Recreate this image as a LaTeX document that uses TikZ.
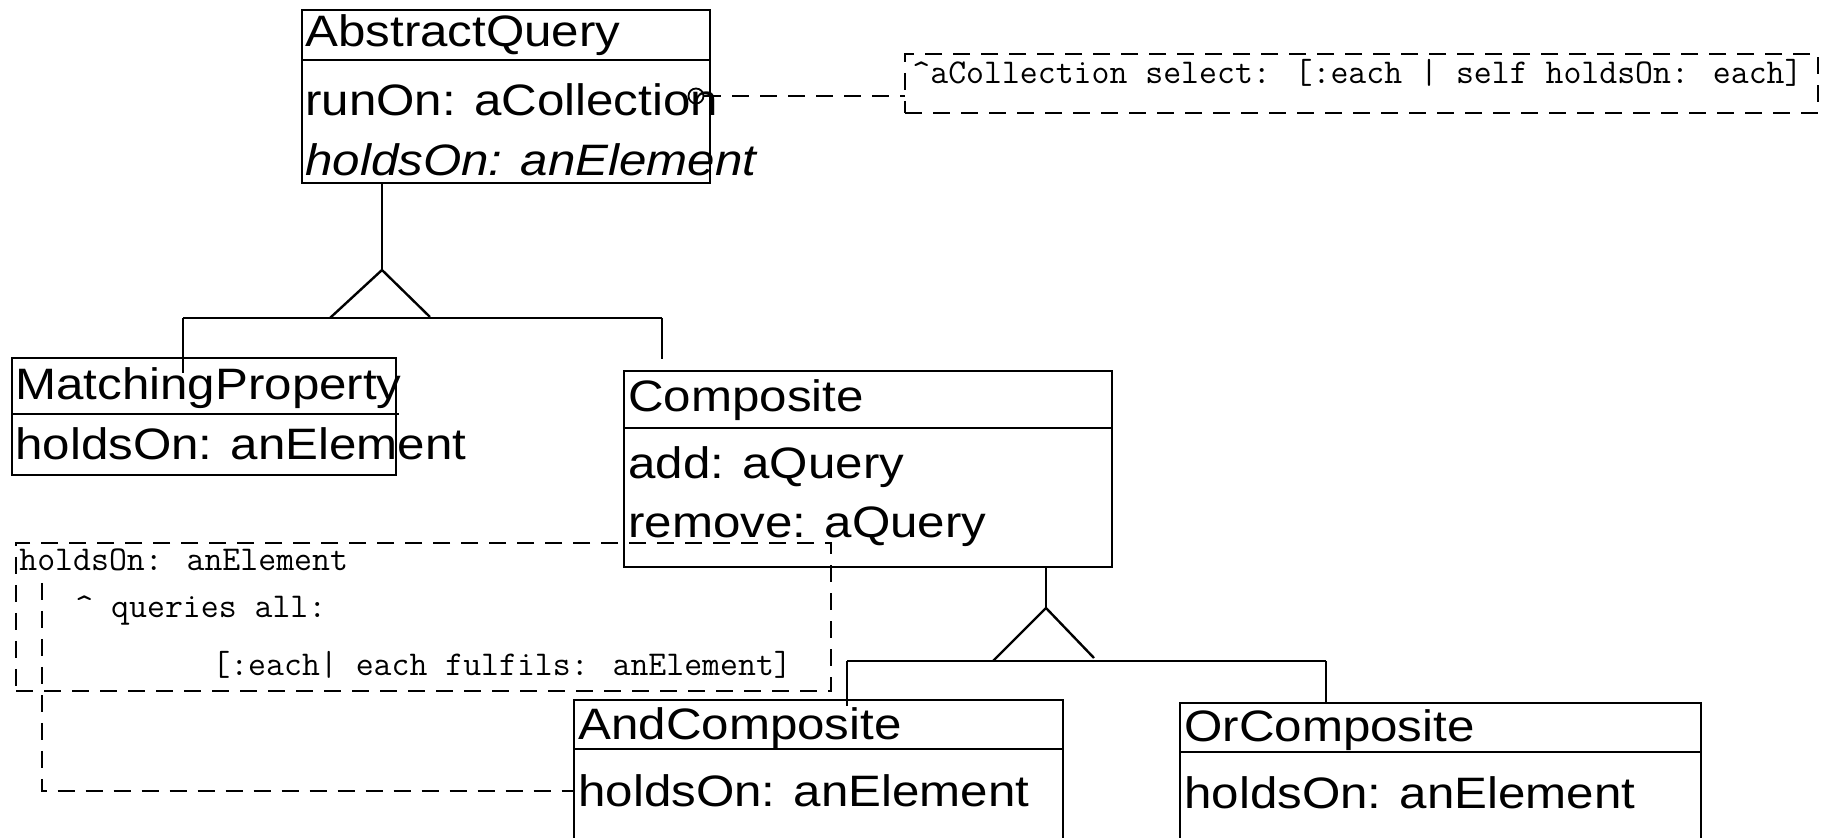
\documentclass[tikz,border=0pt]{standalone}
\usepackage{fontspec}
\setmainfont{Liberation Sans}[FakeStretch=1.12]
\usetikzlibrary{calc}

\begin{document}
\begin{tikzpicture}[
    x=0.5pt, y=-0.5pt,
    classbox/.style={draw, line width=1.2pt, inner sep=0pt, outer sep=0pt, anchor=north west},
    member/.style={anchor=base west, inner sep=0pt, font=\fontsize{22}{26}\selectfont},
    notebox/.style={draw, line width=1.2pt, dash pattern=on 8.5pt off 5.5pt, inner sep=0pt, outer sep=0pt, anchor=north west},
    notetext/.style={anchor=base west, inner sep=0pt, font=\ttfamily\fontsize{17.4}{20}\selectfont},
    gen/.style={line width=1.2pt},
    notelink/.style={line width=1.2pt, dash pattern=on 8.5pt off 5.5pt},
    anchorring/.style={circle, draw, line width=0.9pt, minimum size=7.5pt, inner sep=0pt}
]
\path[use as bounding box] (0,0) rectangle (1827,838);
\clip (0,0) rectangle (1827,838);

\node[classbox, minimum width=204pt, minimum height=86.5pt] (aq) at (302,10) {};
\draw[gen] ($(aq.north west)+(0,50)$) -- ($(aq.north east)+(0,50)$);
\node[member] (aqname) at (305,47) {AbstractQuery};
\node[member] (aqrun) at (305,116) {runOn: aCollection};
\node[member, font=\fontsize{22}{26}\selectfont\itshape] (aqholds) at (305,176) {holdsOn: anElement};
\node[anchorring] (aqdot) at (696,96) {};

\node[notebox, minimum width=456.5pt, minimum height=29.5pt] (note1) at (905,54) {};
\node[notetext] (note1txt) at (912,84) {\textasciicircum aCollection select: [:each | self holdsOn: each]};
\draw[notelink] (aqdot) -- (aqdot -| note1.west);

\node[classbox, minimum width=192pt, minimum height=58.5pt] (mp) at (12,358) {};
\draw[gen] ($(mp.north west)+(0,56)$) -- ($(mp.north east)+(3,56)$);
\node[member] (mpname) at (15,400) {MatchingProperty};
\node[member] (mpholds) at (15,460) {holdsOn: anElement};

\node[classbox, minimum width=244pt, minimum height=98pt] (comp) at (624,371) {};
\draw[gen] ($(comp.north west)+(0,57)$) -- ($(comp.north east)+(0,57)$);
\node[member] (compname) at (628,412) {Composite};
\node[member] (compadd) at (628,479) {add: aQuery};
\node[member] (comprem) at (628,538) {remove: aQuery};

\node[classbox, minimum width=244.5pt, minimum height=85pt] (andc) at (574,700) {};
\draw[gen] ($(andc.north west)+(0,49)$) -- ($(andc.north east)+(0,49)$);
\node[member] (andcname) at (578,740) {AndComposite};
\node[member] (andcholds) at (578,807) {holdsOn: anElement};

\node[classbox, minimum width=260.5pt, minimum height=85pt] (orc) at (1180,703) {};
\draw[gen] ($(orc.north west)+(0,49)$) -- ($(orc.north east)+(0,49)$);
\node[member] (orcname) at (1184,742) {OrComposite};
\node[member] (orcholds) at (1184,809) {holdsOn: anElement};

\node[notebox, minimum width=407.5pt, minimum height=74pt] (note2) at (16,543) {};
\node[notetext] (note2a) at (19,571) {holdsOn: anElement};
\node[notetext] (note2b) at (75,618) {\textasciicircum{} queries all:};
\node[notetext] (note2c) at (212,676) {[:each| each fulfils: anElement]};
\coordinate (n2start) at (42,583);
\draw[notelink] (n2start) |- (andcholds.west -| andc.west);

\coordinate (apex1) at (382,270);
\coordinate (bar1l) at (183,318);
\coordinate (bar1r) at (662,318);
\draw[gen] (aq.south -| apex1) -- (apex1);
\draw[gen] ($(apex1)+(-52,48)$) -- (apex1) -- ($(apex1)+(48,47)$);
\draw[gen] (bar1l) -- (bar1r);
\draw[gen] (bar1l) -- ($(bar1l |- mp.north)+(0,15)$);
\draw[gen] (bar1r) -- ($(bar1r |- comp.north)+(0,-12)$);

\coordinate (apex2) at (1046,608);
\coordinate (bar2l) at (847,661);
\coordinate (bar2r) at (1326,661);
\draw[gen] (comp.south -| apex2) -- (apex2);
\draw[gen] ($(apex2)+(-53,53)$) -- (apex2) -- ($(apex2)+(48,50)$);
\draw[gen] (bar2l) -- (bar2r);
\draw[gen] (bar2l) -- ($(bar2l |- andc.north)+(0,6)$);
\draw[gen] (bar2r) -- (bar2r |- orc.north);
\end{tikzpicture}
\end{document}
